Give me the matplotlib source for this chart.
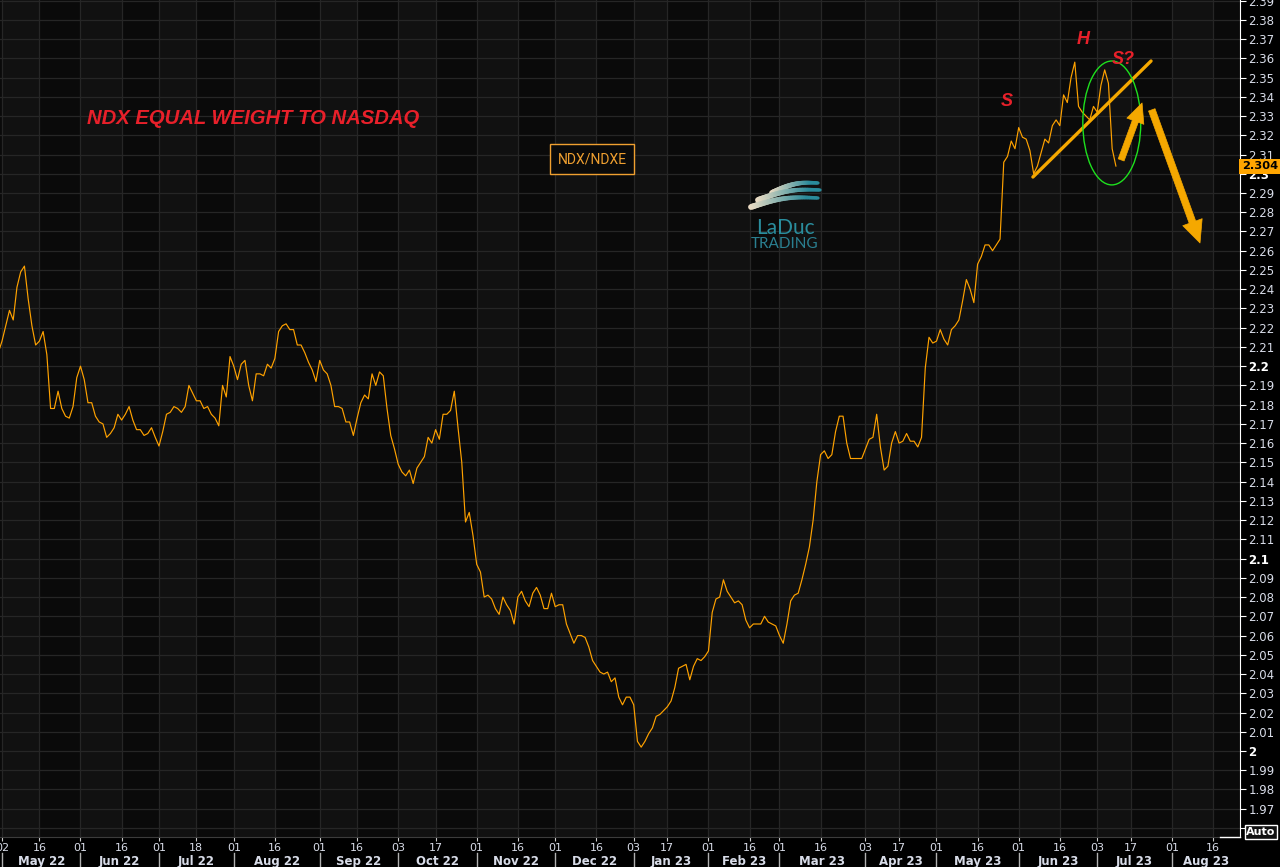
import numpy as np
import pandas as pd
import matplotlib
matplotlib.use('Agg')
import matplotlib.pyplot as plt
import matplotlib.transforms as mtransforms
from matplotlib.patches import Ellipse
from matplotlib.lines import Line2D
from matplotlib.collections import LineCollection
from matplotlib.colors import to_rgb

W, H = 1280, 867

# NYSE holidays inside the plotted range
holidays = ['2022-05-30', '2022-06-20', '2022-07-04', '2022-09-05', '2022-11-24',
            '2022-12-26', '2023-01-02', '2023-01-16', '2023-02-20', '2023-04-07',
            '2023-05-29', '2023-06-19', '2023-07-04', '2023-09-04']
days = pd.bdate_range('2022-04-29', '2023-09-29', freq='C', holidays=holidays)

# NDX / NDXE daily ratio, one value per trading day from 29 Apr 2022
ratio = [2.207,
         2.213, 2.221, 2.229, 2.224, 2.241, 2.249, 2.252, 2.235, 2.221, 2.211,
         2.213, 2.218, 2.206, 2.178, 2.178, 2.187, 2.178, 2.174, 2.173, 2.179,
         2.194, 2.200, 2.193, 2.181, 2.181, 2.174, 2.171, 2.170, 2.163, 2.165,
         2.168, 2.175, 2.172, 2.175, 2.179, 2.172, 2.167, 2.167, 2.164, 2.165,
         2.168, 2.163, 2.1585, 2.166, 2.175, 2.176, 2.179, 2.178, 2.176, 2.179,
         2.190, 2.186, 2.182, 2.182, 2.178, 2.179, 2.175, 2.173, 2.169, 2.190,
         2.184, 2.205, 2.200, 2.193, 2.201, 2.203, 2.190, 2.182, 2.196, 2.196,
         2.195, 2.201, 2.199, 2.204, 2.218, 2.221, 2.222, 2.219, 2.219, 2.211,
         2.211, 2.207, 2.202, 2.198, 2.192, 2.203, 2.198, 2.196, 2.190, 2.179,
         2.179, 2.178, 2.171, 2.171, 2.164, 2.173, 2.181, 2.185, 2.183, 2.196,
         2.190, 2.197, 2.195, 2.178, 2.164, 2.157, 2.149, 2.145, 2.143, 2.146,
         2.139, 2.147, 2.150, 2.153, 2.163, 2.160, 2.167, 2.162, 2.175, 2.175,
         2.177, 2.187, 2.168, 2.150, 2.119, 2.124, 2.112, 2.097, 2.093, 2.080,
         2.081, 2.079, 2.074, 2.071, 2.080, 2.076, 2.073, 2.066, 2.080, 2.083,
         2.078, 2.075, 2.082, 2.085, 2.081, 2.074, 2.074, 2.082, 2.075, 2.076,
         2.076, 2.066, 2.061, 2.056, 2.060, 2.060, 2.059, 2.054, 2.047, 2.044,
         2.041, 2.040, 2.041, 2.036, 2.038, 2.028, 2.024, 2.028, 2.028, 2.024,
         2.005, 2.002, 2.005, 2.009, 2.012, 2.018, 2.019, 2.021, 2.023, 2.026,
         2.033, 2.043, 2.044, 2.045, 2.037, 2.044, 2.048, 2.047, 2.049, 2.052,
         2.072, 2.079, 2.080, 2.089, 2.083, 2.080, 2.077, 2.078, 2.076, 2.068,
         2.064, 2.066, 2.066, 2.066, 2.070, 2.067, 2.066, 2.065, 2.060, 2.056,
         2.066, 2.078, 2.081, 2.082, 2.089, 2.097, 2.106, 2.120, 2.140, 2.154,
         2.156, 2.152, 2.154, 2.166, 2.174, 2.174, 2.160, 2.152, 2.152, 2.152,
         2.152, 2.157, 2.162, 2.163, 2.175, 2.158, 2.146, 2.148, 2.160, 2.166,
         2.160, 2.161, 2.165, 2.161, 2.161, 2.158, 2.163, 2.199, 2.215, 2.212,
         2.213, 2.219, 2.214, 2.211, 2.219, 2.221, 2.224, 2.234, 2.245, 2.240,
         2.233, 2.253, 2.257, 2.263, 2.263, 2.260, 2.263, 2.266, 2.306, 2.309,
         2.317, 2.313, 2.324, 2.319, 2.318, 2.312, 2.300, 2.304, 2.311, 2.318,
         2.316, 2.325, 2.328, 2.325, 2.341, 2.337, 2.350, 2.358, 2.335, 2.332,
         2.330, 2.328, 2.335, 2.332, 2.346, 2.354, 2.347, 2.313, 2.304]
last_value = 2.304

months = pd.period_range('2022-05', '2023-08', freq='M')
yticks = np.round(np.arange(1.96, 2.395, 0.01), 2)

xs = np.arange(len(ratio))
x_lo, x_hi = 0.465, 332.2
y_lo, y_hi = 1.9553, 2.3903

orange = '#ffa200'
arrow_orange = '#f5a800'
red = '#e8202a'
txt = '#d8dce8'


def first_day(ts):
    return int(days.searchsorted(ts))


fig = plt.figure(figsize=(12.8, 8.67), dpi=100, facecolor='black')
ax = fig.add_axes([0, 30 / H, 1240 / W, 837 / H])
ax.set_facecolor('#0a0a0a')

# half-month shading and ticks
tick_pos, tick_lab, month_start = [], [], []
for m in months:
    a = first_day(pd.Timestamp(m.year, m.month, 1))
    b = first_day(pd.Timestamp(m.year, m.month, 16))
    month_start.append(a)
    tick_pos += [a, b]
    tick_lab += [days[a].strftime('%d'), days[b].strftime('%d')]
    ax.axvspan(a, b, color='#111111', lw=0, zorder=0)

ax.plot(xs, ratio, color=orange, lw=0.85, zorder=3)

ax.set_xlim(x_lo, x_hi)
ax.set_ylim(y_lo, y_hi)
ax.set_xticks(tick_pos)
ax.set_xticklabels(tick_lab)
ax.yaxis.tick_right()
ylabels = ['{:.2f}'.format(v).rstrip('0').rstrip('.') for v in yticks]
ylabels[0] = ''
ax.set_yticks(yticks)
ax.set_yticklabels(ylabels)
ax.grid(True, color='#262626', lw=0.9, zorder=1)
ax.set_axisbelow(True)

ax.tick_params(axis='x', colors='#cccccc', labelcolor=txt, length=3, width=0.8,
               pad=1.5, labelsize=8)
ax.tick_params(axis='y', colors='white', labelcolor=txt, length=4, width=0.8,
               pad=2, labelsize=8.5)
for lab, s in zip(ax.get_yticklabels(), ylabels):
    if 0 < len(s) <= 3:
        lab.set_fontweight('bold')
        lab.set_color('white')

for side in ['top', 'left']:
    ax.spines[side].set_visible(False)
ax.spines['right'].set_color('white')
ax.spines['bottom'].set_color('#3c3c3c')

# month labels under the day labels, with separators
trans = mtransforms.blended_transform_factory(ax.transData, ax.transAxes)
edges = [1] + month_start[1:] + [x_hi]
for i, m in enumerate(months):
    a, b = edges[i], edges[i + 1]
    ax.text((a + b) / 2, -0.0287, m.strftime('%b %y'), transform=trans, ha='center',
            va='center', fontsize=8.5, fontweight='bold', color=txt, clip_on=False)
    ax.plot([month_start[i], month_start[i]], [-0.019, -0.04], transform=trans,
            color='#b0b0b0', lw=1, clip_on=False)

# current value tag
ax.annotate('{:.3f}'.format(last_value), xy=(1.0, last_value),
            xycoords=('axes fraction', 'data'), xytext=(1.2, 0), textcoords='offset points',
            ha='left', va='center', fontsize=8.2, fontweight='bold', color='black',
            bbox=dict(boxstyle='square,pad=0.22', fc='#ffa500', ec='none'),
            annotation_clip=False, zorder=6)

# pattern drawing: neckline, ellipse, arrows
ax.plot([276.8, 308.4], [2.2983, 2.3586], color=arrow_orange, lw=2.4,
        solid_capstyle='round', zorder=4)
ax.add_patch(Ellipse((297.9, 2.3264), 15.5, 0.0644, fill=False, ec='#1ee01e', lw=1.0,
                     zorder=4))
ax.annotate('', xy=(306.0, 2.3368), xytext=(300.4, 2.3072),
            arrowprops=dict(arrowstyle='simple,head_length=1.4,head_width=1.3,tail_width=0.45',
                            color=arrow_orange, mutation_scale=10, shrinkA=0, shrinkB=0,
                            lw=0.5), zorder=5)
ax.annotate('', xy=(321.5, 2.264), xytext=(308.6, 2.3332),
            arrowprops=dict(arrowstyle='simple,head_length=1.45,head_width=1.35,tail_width=0.45',
                            color=arrow_orange, mutation_scale=11, shrinkA=0, shrinkB=0,
                            lw=0.5), zorder=5)

# texts
fig.text(253 / W, 1 - 119 / H, 'NDX EQUAL WEIGHT TO NASDAQ', ha='center', va='center',
         color=red, fontsize=14.6, fontweight='heavy', style='italic', family='Liberation Sans')
fig.text(1007 / W, 1 - 101 / H, 'S', ha='center', va='center', color=red, fontsize=13,
         fontweight='bold', style='italic', family='Liberation Sans')
fig.text(1083 / W, 1 - 40 / H, 'H', ha='center', va='center', color=red, fontsize=13,
         fontweight='bold', style='italic', family='Liberation Sans')
fig.text(1123 / W, 1 - 60 / H, 'S?', ha='center', va='center', color=red, fontsize=13,
         fontweight='bold', style='italic', family='Liberation Sans')
fig.text(592 / W, 1 - 159 / H, 'NDX/NDXE', ha='center', va='center', color='#f0a030',
         fontsize=10, family='Roboto',
         bbox=dict(boxstyle='square,pad=0.55', fc='#0a0a0a', ec='#f0a030', lw=1))
fig.text(1261 / W, 1 - 832 / H, 'Auto', ha='center', va='center', fontsize=8,
         fontweight='bold', color='white',
         bbox=dict(boxstyle='square,pad=0.15', fc='#111111', ec='white', lw=1))
fig.add_artist(Line2D([1220 / W, 1240 / W], [30 / H, 30 / H], color='white', lw=1))

# LaDuc logo
c0, c1 = np.array(to_rgb('#ecdcc4')), np.array(to_rgb('#2a8b9b'))
for x0, x1, y0, dy in [(772, 818, 193, -10), (758, 820, 200, -10), (751, 818, 207, -9)]:
    t = np.linspace(0, 1, 40)
    px = x0 + (x1 - x0) * t
    py = y0 + dy * t - 4 * np.sin(np.pi * t)
    pts = np.column_stack([px / W, 1 - py / H]).reshape(-1, 1, 2)
    segs = np.concatenate([pts[:-1], pts[1:]], axis=1)
    cols = [c0 + (c1 - c0) * min(1, v * 1.2) for v in t[:-1]]
    lc = LineCollection(segs, colors=cols, linewidths=4.2 * (1 - 0.45 * t[:-1]),
                        transform=fig.transFigure, capstyle='round')
    fig.add_artist(lc)
fig.text(785 / W, 1 - 228 / H, 'LaDuc', ha='center', va='center', color='#2a8d9d',
         fontsize=15, family='Lato')
fig.text(785 / W, 1 - 244 / H, 'TRADING', ha='center', va='center', color='#2a7f90',
         fontsize=11, family='Lato')

fig.savefig('out.png', dpi=100, facecolor='black')
